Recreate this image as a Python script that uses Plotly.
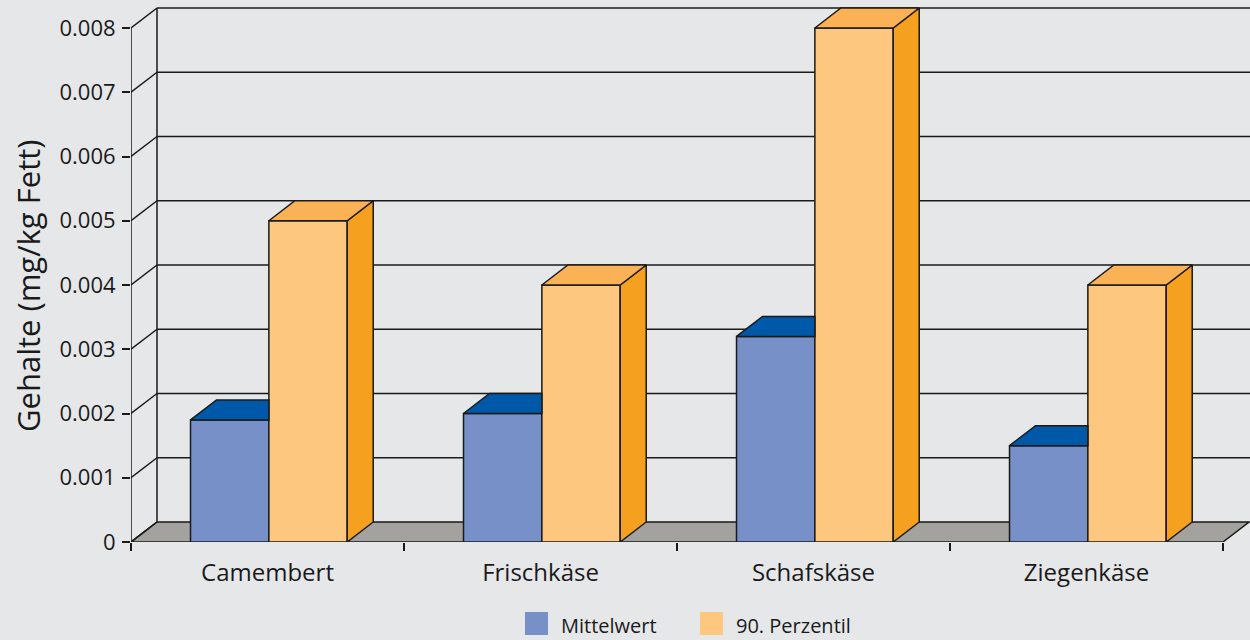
import plotly.graph_objects as go

# ---- data -------------------------------------------------------------
categories = ["Camembert", "Frischkäse", "Schafskäse", "Ziegenkäse"]
mittelwert = [0.0019, 0.0020, 0.0032, 0.0015]
perzentil_90 = [0.0050, 0.0040, 0.0080, 0.0040]
series_names = ["Mittelwert", "90. Perzentil"]
y_tickvals = [0, 0.001, 0.002, 0.003, 0.004, 0.005, 0.006, 0.007, 0.008]
y_ticktext = ["0", "0.001", "0.002", "0.003", "0.004", "0.005", "0.006", "0.007", "0.008"]
y_title = "Gehalte (mg/kg Fett)"

# ---- geometry ---------------------------------------------------------
W, H = 1250, 640
M_L, M_R, M_T, M_B = 131, 0, 0, 98
PLOT_W = W - M_L - M_R
PLOT_H = H - M_T - M_B
PX_PER_CAT = 273.0          # pixels per category slot
PX_PER_Y = 64250.0          # pixels per data unit on the value axis
X_RANGE = [-0.5, -0.5 + PLOT_W / PX_PER_CAT]
Y_RANGE = [0, PLOT_H / PX_PER_Y]
DX = 26 / PX_PER_CAT        # depth offset (to the right)
DY = 20 / PX_PER_Y          # depth offset (upwards)
N = len(categories)
X_LEFT, X_FRONT_END = -0.5, N - 0.5

BAR_W = 0.287
OFFSETS = [-0.282, 0.005]

# ---- colours ----------------------------------------------------------
BG = "#E6E7E9"
INK = "#1A1A1A"
FLOOR = "#A3A29F"
FRONT = ["#7890C8", "#FEC77F"]
TOP = ["#0058A8", "#FBB155"]
SIDE = ["#0058A8", "#F6A01F"]
FONT = "Open Sans"


def px_to_paper(px, py):
    return (px - M_L) / PLOT_W, (H - M_B - py) / PLOT_H


fig = go.Figure()

# front faces of the columns
for s, (name, vals) in enumerate(zip(series_names, [mittelwert, perzentil_90])):
    fig.add_trace(go.Bar(
        x=list(range(N)), y=vals, name=name,
        offset=OFFSETS[s], width=BAR_W,
        marker=dict(color=FRONT[s], line=dict(color=INK, width=1.5)),
        showlegend=False, hoverinfo="skip",
    ))

# top and side faces of the columns
for s, vals in enumerate([mittelwert, perzentil_90]):
    for i, v in enumerate(vals):
        xl = i + OFFSETS[s]
        xr = xl + BAR_W
        if s == 0:
            # left column: its right part is hidden behind the taller neighbour
            tx = [xl, xl + DX, xr, xr, xl]
            ty = [v, v + DY, v + DY, v, v]
        else:
            tx = [xl, xl + DX, xr + DX, xr, xl]
            ty = [v, v + DY, v + DY, v, v]
            fig.add_trace(go.Scatter(
                x=[xr, xr + DX, xr + DX, xr, xr], y=[0, DY, v + DY, v, 0],
                mode="lines", fill="toself", fillcolor=SIDE[s],
                line=dict(color=INK, width=1.5),
                showlegend=False, hoverinfo="skip",
            ))
        fig.add_trace(go.Scatter(
            x=tx, y=ty, mode="lines", fill="toself", fillcolor=TOP[s],
            line=dict(color=INK, width=1.5),
            showlegend=False, hoverinfo="skip",
        ))

# walls, floor and grid (drawn beneath the columns)
shapes = []
shapes.append(dict(
    type="path", xref="x", yref="y", layer="below",
    path=(f"M {X_LEFT},0 L {X_LEFT + DX},{DY} L {X_FRONT_END + DX},{DY} "
          f"L {X_FRONT_END},0 Z"),
    fillcolor=FLOOR, line=dict(color=INK, width=1.5),
))
for t in y_tickvals:
    shapes.append(dict(type="line", xref="x", yref="y", layer="below",
                       x0=X_LEFT, y0=t, x1=X_LEFT + DX, y1=t + DY,
                       line=dict(color=INK, width=1.5)))
    if t > 0:
        shapes.append(dict(type="line", xref="x", yref="y", layer="below",
                           x0=X_LEFT + DX, y0=t + DY, x1=X_RANGE[1], y1=t + DY,
                           line=dict(color=INK, width=1.5)))
top = y_tickvals[-1]
shapes.append(dict(type="line", xref="x", yref="y", layer="below",
                   x0=X_LEFT, y0=0, x1=X_LEFT, y1=top,
                   line=dict(color=INK, width=1.5)))
shapes.append(dict(type="line", xref="x", yref="y", layer="below",
                   x0=X_LEFT + DX, y0=DY, x1=X_LEFT + DX, y1=top + DY,
                   line=dict(color=INK, width=1.5)))

# legend
annotations = []
legend_items = [(525, 559), (700, 734)]
for s, (sx, tx) in enumerate(legend_items):
    x0, y0 = px_to_paper(sx, 635)
    x1, y1 = px_to_paper(sx + 23, 612)
    shapes.append(dict(type="rect", xref="paper", yref="paper",
                       x0=x0, y0=y0, x1=x1, y1=y1,
                       fillcolor=FRONT[s], line=dict(width=0)))
    ax, ay = px_to_paper(tx, 625)
    annotations.append(dict(xref="paper", yref="paper", x=ax, y=ay,
                            text=series_names[s], showarrow=False,
                            xanchor="left", yanchor="middle",
                            font=dict(family=FONT, size=20, color=INK)))

# value-axis title
tx, ty = px_to_paper(28, 286)
annotations.append(dict(xref="paper", yref="paper", x=tx, y=ty, text=y_title,
                        showarrow=False, textangle=-90,
                        xanchor="center", yanchor="middle",
                        font=dict(family=FONT, size=31, color=INK)))

fig.update_layout(
    width=W, height=H,
    margin=dict(l=M_L, r=M_R, t=M_T, b=M_B, autoexpand=False),
    paper_bgcolor=BG, plot_bgcolor=BG,
    barmode="overlay",
    shapes=shapes, annotations=annotations,
    showlegend=False,
    font=dict(family=FONT, color=INK),
    xaxis=dict(
        range=X_RANGE, tickvals=list(range(N)), ticktext=categories,
        ticks="", showline=False, showgrid=False, zeroline=False,
        tickfont=dict(family=FONT, size=24, color=INK),
        ticklabelstandoff=14, automargin=False, fixedrange=True,
        minor=dict(tick0=-0.5, dtick=1, ticks="outside", ticklen=8,
                   tickwidth=1.5, tickcolor=INK, showgrid=False),
    ),
    yaxis=dict(
        range=Y_RANGE, tickvals=y_tickvals, ticktext=y_ticktext,
        ticks="outside", ticklen=8, tickwidth=1.5, tickcolor=INK,
        showline=False, showgrid=False, zeroline=False,
        tickfont=dict(family=FONT, size=22, color=INK),
        ticklabelstandoff=2, automargin=False, fixedrange=True,
    ),
)

fig.write_html("out.html", config={"displayModeBar": False})
